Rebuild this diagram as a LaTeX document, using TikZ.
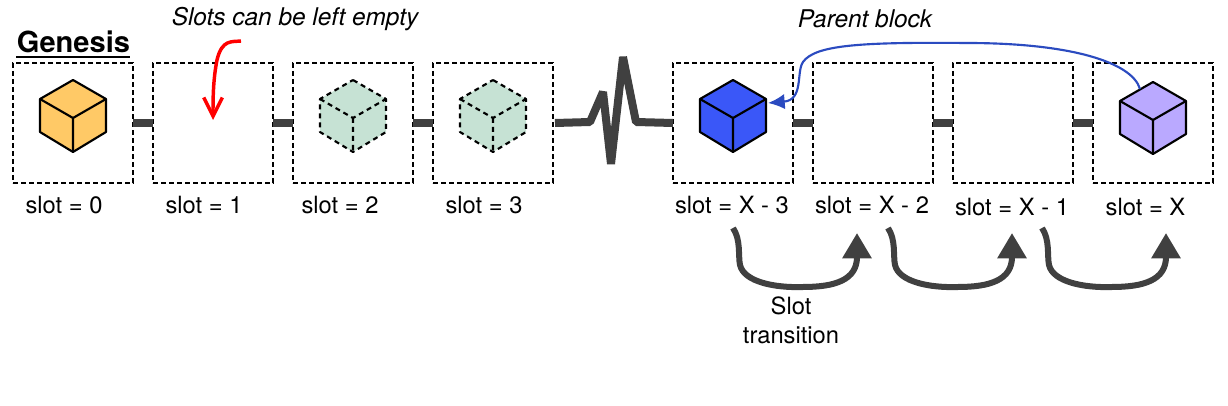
\documentclass[tikz,border=0pt]{standalone}
\usepackage{fontspec}
\setmainfont{TeX Gyre Heros}
\usetikzlibrary{arrows.meta}
\definecolor{linkgray}{RGB}{64,64,64}
\definecolor{ghostgreen}{RGB}{198,226,212}
\definecolor{genesisorange}{RGB}{255,201,102}
\definecolor{parentblue}{RGB}{58,87,248}
\definecolor{childviolet}{RGB}{186,169,255}
\definecolor{linkblue}{RGB}{43,75,192}
\tikzset{
  slotbox/.style={draw,dashed,dash pattern=on 3.75pt off 2.25pt,line width=1.6pt,minimum size=90pt,inner sep=0pt,outer sep=0pt},
  slotlabel/.style={inner sep=0pt,font=\fontsize{17.8}{21.7}\selectfont},
  note/.style={inner sep=0pt,font=\fontsize{18.3}{22}\selectfont\itshape},
  link/.style={linkgray,line width=6pt},
  pics/cube/.style args={#1/#2}{code={
    \coordinate (-top) at (0,-43);
    \coordinate (-ul) at (-33,-24);
    \coordinate (-mid) at (0,-5);
    \coordinate (-ur) at (33,-24);
    \coordinate (-ll) at (-33,9);
    \coordinate (-lr) at (33,9);
    \coordinate (-bot) at (0,29);
    \fill[#1] (-top)--(-ur)--(-lr)--(-bot)--(-ll)--(-ul)--cycle;
    \draw[line width=1.6pt,line join=round,#2] (-top)--(-ur)--(-lr)--(-bot)--(-ll)--(-ul)--cycle;
    \draw[line width=1.6pt,line join=round,#2] (-ul)--(-mid)--(-ur) (-mid)--(-bot);
  }}
}
\begin{document}
\begin{tikzpicture}[x=.75pt,y=-.75pt,>=Latex]
\useasboundingbox (0,0) rectangle (1228,406);
% slots
\foreach \n/\x in {0/73,1/213,2/353,3/493,A/733,B/873,C/1013,X/1153}
  \node[slotbox] (slot\n) at (\x,123) {};
\foreach \n/\x/\y/\t in {0/64/205/slot = 0,1/204/205/slot = 1,2/340/205/slot = 2,3/484/205/slot = 3,A/732/205/slot = X - 3,B/872/205/slot = X - 2,C/1012/207/slot = X - 1,X/1145.5/207/slot = X}
  \node[slotlabel] (label\n) at (\x,\y) {\t};
% links between slots
\foreach \a/\b in {0/1,1/2,2/3,A/B,B/C,C/X}
  \draw[link] (slot\a.east)--(slot\b.west);
\draw[link,line join=bevel] ([xshift=1.5pt]slot3.east)--(590,122)--(603,92)--(611,164)--(623,57)--(636,122)--(slotA.west);
% blocks
\pic (cube0) at (slot0.center) {cube={genesisorange/solid}};
\pic (cube2) at (slot2.center) {cube={ghostgreen/dash pattern=on 3.75pt off 3pt}};
\pic (cube3) at (slot3.center) {cube={ghostgreen/dash pattern=on 3.75pt off 3pt}};
\pic (cubeA) at (slotA.center) {cube={parentblue/solid}};
\pic (cubeX) at ([yshift=-1.5pt]slotX.center) {cube={childviolet/solid}};
% notes
\node[inner sep=0pt,font=\fontsize{21.8}{26}\selectfont\bfseries] (genesis) at (73.5,42) {Genesis};
\coordinate (genesisL) at (16,57);
\coordinate (genesisR) at (130,57);
\draw[line width=1.5pt] (genesisL)--(genesisR);
\node[note] (emptynote) at (295,19) {Slots can be left empty};
\node[note] (parentnote) at (865,19) {Parent block};
\node[slotlabel,align=center] (transition) at (791,320) {Slot\\transition};
% red arrow
\coordinate (emptyS) at (241,41);
\coordinate (emptyE) at (213,120);
\draw[red,line width=2.6pt,-{Straight Barb[length=14pt,width=14pt]}] (emptyS) .. controls (232,42) and (222,39) .. (217,60) .. controls (213,80) and (213,100) .. (emptyE);
% parent link
\coordinate (parentS) at (1140,89);
\coordinate (parentE) at (768,103);
\draw[linkblue,line width=1.6pt,-{Latex[length=12.5pt,width=11.5pt]}] (parentS) .. controls (1132,62) and (1070,43) .. (967,43) .. controls (860,42) and (815,45) .. (803,62) .. controls (796,72) and (804,100) .. (parentE);
% slot transitions
\foreach \d/\n in {0/a,155/b,309/c}{
  \coordinate (trans\n S) at (733+\d,228);
  \coordinate (trans\n E) at (857+\d,233);
  \draw[linkgray,line width=4.5pt,-{Triangle[length=19pt,width=21pt]}] (trans\n S) .. controls (741+\d,240) and (738+\d,255) .. (740+\d,265) .. controls (744+\d,282) and (775+\d,288) .. (803+\d,287) .. controls (835+\d,287) and (857+\d,280) .. (trans\n E);
}
\end{tikzpicture}
\end{document}
